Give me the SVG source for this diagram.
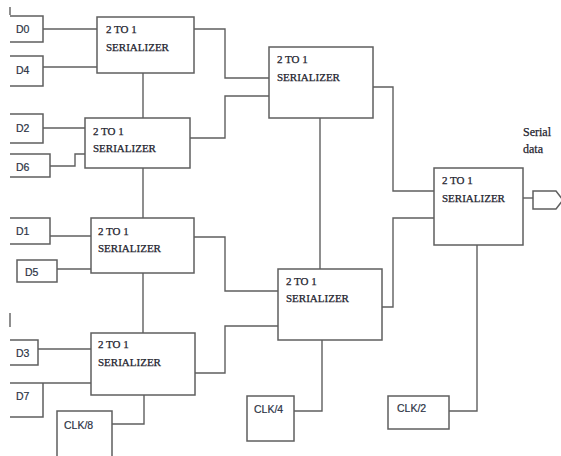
<svg xmlns="http://www.w3.org/2000/svg" width="561" height="456" viewBox="0 0 561 456">
<style>
.b{fill:#fff;stroke:#5f5f5f;stroke-width:1.5}
.o{fill:none;stroke:#5f5f5f;stroke-width:1.5}
.w{fill:none;stroke:#5f5f5f;stroke-width:1.4}
.t{font-family:"Liberation Serif",serif;font-size:11px;fill:#23232e;stroke:#23232e;stroke-width:0.25}
.s{font-family:"Liberation Sans",sans-serif;font-size:10.5px;fill:#2c3344;stroke:#2c3344;stroke-width:0.2}
</style>
<rect width="561" height="456" fill="#fff"/>
<g id="artifacts">
<line x1="10" y1="7" x2="10" y2="15" class="w"/>
<line x1="10" y1="313" x2="10" y2="327" class="w"/>
</g>
<g id="connectors">
<path class="w" d="M43,29H97"/>
<path class="w" d="M43,67H97"/>
<path class="w" d="M143,73V118"/>
<path class="w" d="M43,128H85"/>
<path class="w" d="M50,166H75V154H85"/>
<path class="w" d="M143,168V218"/>
<path class="w" d="M50,236H91"/>
<path class="w" d="M57,269H91"/>
<path class="w" d="M143,273V333"/>
<path class="w" d="M38,349H91"/>
<path class="w" d="M10,383H91"/>
<path class="w" d="M112,424H144V395"/>
<path class="w" d="M194,29H225V78H269"/>
<path class="w" d="M190,138H225V96H269"/>
<path class="w" d="M194,237H225V291H278"/>
<path class="w" d="M194,373H225V326H278"/>
<path class="w" d="M320,118V269"/>
<path class="w" d="M294,411H322V340"/>
<path class="w" d="M373,87H393V191H434"/>
<path class="w" d="M382,307H393V218H434"/>
<path class="w" d="M523,198H533"/>
<path class="w" d="M477,245V411H449"/>
</g>
<g id="D0"><path class="o" d="M10,16H43V42H10"/><text class="s" x="16" y="33">D0</text></g>
<g id="D4"><path class="o" d="M10,56H43V86H10"/><text class="s" x="16" y="74">D4</text></g>
<g id="D2"><path class="o" d="M10,114H43V143H10"/><text class="s" x="16" y="132">D2</text></g>
<g id="D6"><path class="o" d="M10,154H50V177H10"/><text class="s" x="16" y="171">D6</text></g>
<g id="D1"><path class="o" d="M10,218H50V244H10"/><text class="s" x="16" y="235">D1</text></g>
<g id="D5"><rect class="b" x="17" y="260" width="40" height="22"/><text class="s" x="25" y="276">D5</text></g>
<g id="D3"><path class="o" d="M10,340H38V365H10"/><text class="s" x="16" y="357">D3</text></g>
<g id="D7"><path class="o" d="M43,383V417H10"/><text class="s" x="16" y="400">D7</text></g>
<g id="clk8"><path class="o" d="M57,458V411H112V458"/><text class="s" x="64" y="429">CLK/8</text></g>
<g id="clk4"><rect class="b" x="247" y="396" width="47" height="45"/><text class="s" x="254" y="413">CLK/4</text></g>
<g id="clk2"><rect class="b" x="388" y="396" width="61" height="33"/><text class="s" x="397" y="412">CLK/2</text></g>
<g id="ser1"><rect class="b" x="97" y="17" width="97" height="56"/><text class="t" x="106" y="33">2 TO 1</text><text class="t" x="106" y="51">SERIALIZER</text></g>
<g id="ser2"><rect class="b" x="85" y="118" width="105" height="50"/><text class="t" x="93" y="135">2 TO 1</text><text class="t" x="93" y="152">SERIALIZER</text></g>
<g id="ser3"><rect class="b" x="91" y="218" width="103" height="55"/><text class="t" x="98" y="235">2 TO 1</text><text class="t" x="98" y="252">SERIALIZER</text></g>
<g id="ser4"><rect class="b" x="91" y="333" width="104" height="62"/><text class="t" x="98" y="348">2 TO 1</text><text class="t" x="98" y="366">SERIALIZER</text></g>
<g id="ser5"><rect class="b" x="269" y="47" width="104" height="71"/><text class="t" x="277" y="63">2 TO 1</text><text class="t" x="277" y="81">SERIALIZER</text></g>
<g id="ser6"><rect class="b" x="278" y="269" width="104" height="71"/><text class="t" x="286" y="285">2 TO 1</text><text class="t" x="286" y="302">SERIALIZER</text></g>
<g id="ser7"><rect class="b" x="434" y="168" width="89" height="77"/><text class="t" x="442" y="184">2 TO 1</text><text class="t" x="442" y="202">SERIALIZER</text></g>
<g id="out"><polygon class="b" points="533,191 556,191 563,200 556,209 533,209"/>
<text class="t" x="523" y="136" style="font-size:12px">Serial</text><text class="t" x="523" y="153" style="font-size:12px">data</text></g>
</svg>
